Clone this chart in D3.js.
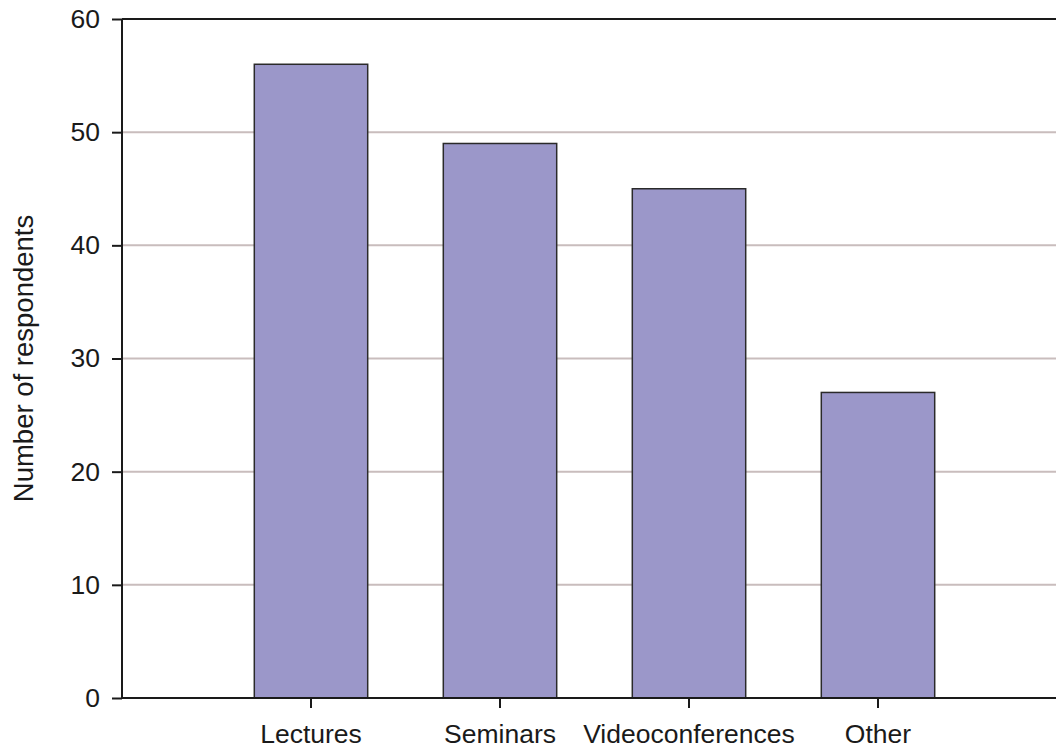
<!DOCTYPE html>
<html>
<head>
<meta charset="utf-8">
<script src="https://cdn.jsdelivr.net/npm/d3@7"></script>
<style>
  html, body { margin: 0; padding: 0; background: #fff; }
  svg { display: block; }
  text { font-family: "Liberation Sans", Arial, sans-serif; fill: #1a1a1a; }
</style>
</head>
<body>
<svg id="chart" width="1056" height="751"></svg>
<script>
// Categories and counts
const categories = ["Lectures", "Seminars", "Videoconferences", "Other"];
const respondents = [56, 49, 45, 27];
const yTickValues = [0, 10, 20, 30, 40, 50, 60];
const yTitle = "Number of respondents";

const svg = d3.select("#chart");
const W = 1056;
const plot = { left: 122, right: W, top: 19, bottom: 698 };

const x = d3.scaleBand()
  .domain(categories)
  .range([216.5, 972.5])
  .paddingInner(0.4)
  .paddingOuter(0.2);

const y = d3.scaleLinear()
  .domain([0, 60])
  .range([plot.bottom, plot.top]);

const fontSize = 26.5;

// Horizontal gridlines
svg.append("g")
  .selectAll("line")
  .data(yTickValues.filter(v => v > 0 && v < 60))
  .join("line")
  .attr("x1", plot.left).attr("x2", plot.right)
  .attr("y1", d => y(d)).attr("y2", d => y(d))
  .attr("stroke", "#c9bdbd")
  .attr("stroke-width", 2);

// Top border line at the maximum of the scale
svg.append("line")
  .attr("x1", plot.left).attr("x2", plot.right)
  .attr("y1", y(60)).attr("y2", y(60))
  .attr("stroke", "#1a1a1a")
  .attr("stroke-width", 2);

// Bars
svg.append("g")
  .selectAll("rect")
  .data(categories.map((c, i) => ({ c, v: respondents[i] })))
  .join("rect")
  .attr("x", d => x(d.c))
  .attr("y", d => y(d.v))
  .attr("width", x.bandwidth())
  .attr("height", d => y(0) - y(d.v))
  .attr("fill", "#9b97c9")
  .attr("stroke", "#2a2a2a")
  .attr("stroke-width", 1.5);

// Y axis
const yAxis = svg.append("g")
  .attr("transform", `translate(${plot.left},0)`)
  .call(d3.axisLeft(y).tickValues(yTickValues).tickSize(10).tickPadding(12));
yAxis.select(".domain").attr("stroke", "#1a1a1a").attr("stroke-width", 2)
  .attr("d", `M0,${plot.top}V${plot.bottom}`);
yAxis.selectAll(".tick line").attr("stroke", "#1a1a1a").attr("stroke-width", 2);
yAxis.selectAll(".tick text")
  .attr("font-size", fontSize)
  .attr("font-family", "Liberation Sans, Arial, sans-serif")
  .attr("fill", "#1a1a1a");

// X axis
const xAxis = svg.append("g")
  .attr("transform", `translate(0,${plot.bottom})`)
  .call(d3.axisBottom(x).tickSize(10).tickPadding(16));
xAxis.select(".domain").attr("stroke", "#1a1a1a").attr("stroke-width", 2)
  .attr("d", `M${plot.left},0H${plot.right}`);
xAxis.selectAll(".tick line").attr("stroke", "#1a1a1a").attr("stroke-width", 2);
xAxis.selectAll(".tick text")
  .attr("font-size", fontSize)
  .attr("font-family", "Liberation Sans, Arial, sans-serif")
  .attr("fill", "#1a1a1a");

// Y axis title
svg.append("text")
  .attr("transform", `translate(33,${(plot.top + plot.bottom) / 2}) rotate(-90)`)
  .attr("text-anchor", "middle")
  .attr("font-size", 27.5)
  .text(yTitle);
</script>
</body>
</html>
